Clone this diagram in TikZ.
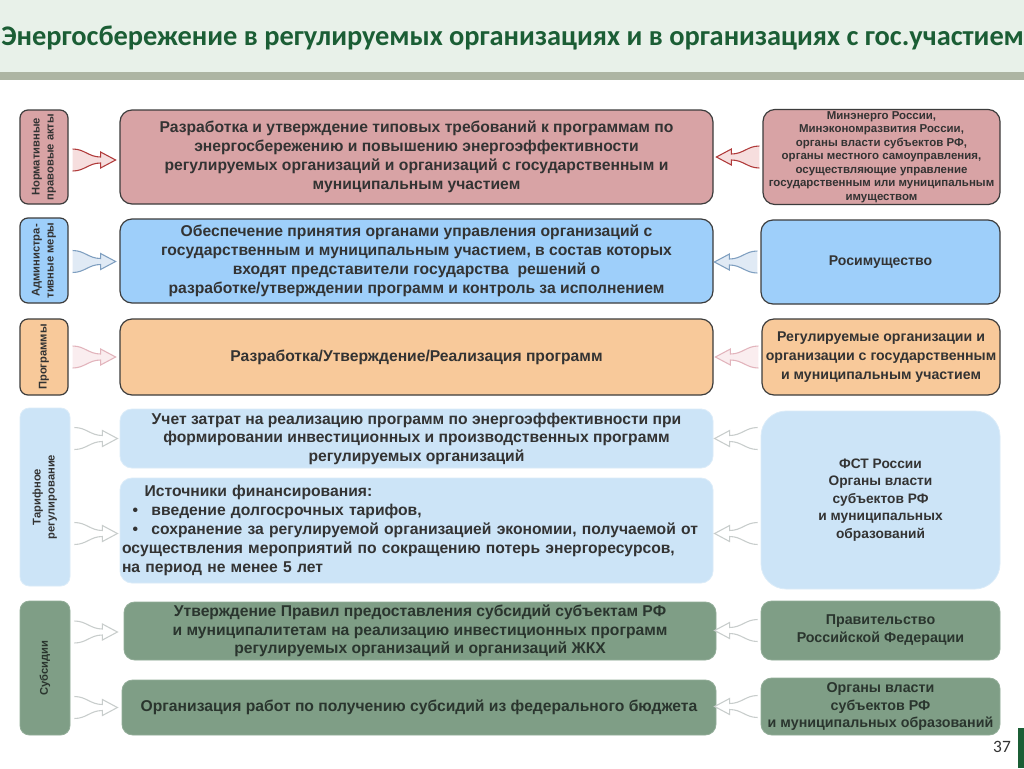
\documentclass[tikz,border=0pt]{standalone}
\usepackage{fontspec}
\setmainfont{Liberation Sans}
\newfontfamily\titlefont{Carlito}
\usetikzlibrary{calc}
\definecolor{hdrbg}{HTML}{E8F1E9}
\definecolor{hdrbar}{HTML}{ADB5A3}
\definecolor{titlecol}{HTML}{1B5E35}
\definecolor{txt}{HTML}{333333}
\definecolor{bord}{HTML}{3C3C3C}
\definecolor{red1}{HTML}{D8A3A5}
\definecolor{blue1}{HTML}{9ECFFA}
\definecolor{org1}{HTML}{F8C99A}
\definecolor{lblue}{HTML}{CCE4F7}
\definecolor{grn}{HTML}{7F9E86}
\definecolor{grntxt}{HTML}{2A352E}
\definecolor{arrred}{HTML}{B03A3A}
\definecolor{arrredf}{HTML}{F6DEDE}
\definecolor{arrblue}{HTML}{7F9FC0}
\definecolor{arrbluef}{HTML}{E0EAF5}
\definecolor{arrpink}{HTML}{E2B4BC}
\definecolor{arrpinkf}{HTML}{FAEDEF}
\definecolor{arrgray}{HTML}{C8CDCC}
\newcommand\vlabel[2]{\rotatebox{90}{\begin{tabular}{@{}c@{}}#1\\[0.5pt]#2\end{tabular}}}
\newcommand\vlabelone[1]{\rotatebox{90}{#1}}
\tikzset{
  sz/.style 2 args={minimum width=#1*0.75pt, minimum height=#2*0.75pt},
  box/.style={draw=bord, line width=0.9pt, rounded corners=9pt, align=center, inner sep=1.5pt,
     text=txt, font=\bfseries\fontsize{11.75}{14.25}\selectfont},
  lab/.style={draw=bord, line width=0.9pt, rounded corners=6pt, inner sep=0pt,
     text=txt, font=\bfseries\fontsize{8.4}{10}\selectfont},
  softbox/.style={fill=lblue, draw=lblue!70!white, line width=0.6pt, rounded corners=9pt, align=center,
     inner sep=1.5pt, text=txt, font=\bfseries\fontsize{11.75}{13.9}\selectfont},
  grnbox/.style={fill=grn, draw=grn!85!white, line width=0.6pt, rounded corners=8pt, align=center,
     inner sep=1.5pt, text=grntxt, font=\bfseries\fontsize{11.75}{13.9}\selectfont},
  rfat/.pic={\path[pic actions] (4,-11) .. controls (16,-11) and (20,-3) .. (32,-3) -- (32,-8) -- (47,0) -- (32,8) -- (32,3) .. controls (20,3) and (16,11) .. (4,11);},
  lfat/.pic={\path[pic actions] (-3,-11) .. controls (-15,-11) and (-19,-3) .. (-31,-3) -- (-31,-8) -- (-46,0) -- (-31,8) -- (-31,3) .. controls (-19,3) and (-15,11) .. (-3,11);},
  redarr/.style={draw=arrred, fill=arrredf, line width=0.8pt},
  bluearr/.style={draw=arrblue, fill=arrbluef, line width=0.8pt},
  pinkarr/.style={draw=arrpink, fill=arrpinkf, line width=0.8pt},
  grayarr/.style={draw=arrgray, fill=white, line width=0.8pt},
}
\begin{document}
\begin{tikzpicture}[x=0.75pt, y=-0.75pt]
\useasboundingbox (0,0) rectangle (1024,768);
\fill[white] (0,0) rectangle (1024,768);
% header
\fill[hdrbg] (0,0) rectangle (1024,72);
\fill[hdrbar] (0,72) rectangle (1024,80);
\node[anchor=west, inner sep=0pt, text=titlecol, font=\titlefont\bfseries\fontsize{21.3}{24}\selectfont] (title) at (1,38) {Энергосбережение в регулируемых организациях и в организациях с гос.участием};

% row 1
\node[lab, fill=red1, sz={48}{94}] (l1) at (44,157) {\vlabel{Нормативные}{правовые акты}};
\node[box, fill=red1, sz={593}{94}] (m1) at (416.5,157) {Разработка и утверждение типовых требований к программам по\\энергосбережению и повышению энергоэффективности\\регулируемых организаций и организаций с государственным и\\муниципальным участием};
\node[box, fill=red1, sz={237}{94}, font=\bfseries\fontsize{8.6}{10.1}\selectfont] (r1) at (881.5,157) {Минэнерго России,\\Минэкономразвития России,\\органы власти субъектов РФ,\\органы местного самоуправления,\\осуществляющие управление\\государственным или муниципальным\\имуществом};
% row 2
\node[lab, fill=blue1, sz={48}{85}] (l2) at (44,260.5) {\vlabel{Администра-}{тивные меры}};
\node[box, fill=blue1, sz={593}{84}] (m2) at (416.5,261) {Обеспечение принятия органами управления организаций с\\государственным и муниципальным участием, в состав которых\\входят представители государства\ \ решений о\\разработке/утверждении программ и контроль за исполнением};
\node[box, fill=blue1, sz={239}{84}, font=\bfseries\fontsize{10.55}{13}\selectfont] (r2) at (880.5,262) {Росимущество};
% row 3
\node[lab, fill=org1, sz={48}{76}] (l3) at (44,357) {\vlabelone{Программы}};
\node[box, fill=org1, sz={593}{76}] (m3) at (416.5,357) {Разработка/Утверждение/Реализация программ};
\node[box, fill=org1, sz={238}{76}, font=\bfseries\fontsize{10.6}{14}\selectfont] (r3) at (881,357) {Регулируемые организации и\\организации с государственным\\и муниципальным участием};
% row 4
\node[softbox, rounded corners=7pt, sz={50}{178}, font=\bfseries\fontsize{8.4}{10}\selectfont] (l4) at (45,497) {\vlabel{Тарифное}{регулирование}};
\node[softbox, sz={593}{59}] (m4a) at (416.5,438.5) {Учет затрат на реализацию программ по энергоэффективности при\\формировании инвестиционных и производственных программ\\регулируемых организаций};
\node[softbox, sz={593}{105}, align=left, text width=589*0.75pt, inner xsep=1.5pt, font=\bfseries\fontsize{11.75}{14.25}\selectfont] (m4b) at (416.5,530.5) {\hspace*{17pt}Источники финансирования:\\
\hspace*{8pt}•\hspace{10pt}введение долгосрочных тарифов,\\
\hspace*{8pt}•\hspace{10pt}сохранение за регулируемой организацией экономии, получаемой от\\
осуществления мероприятий по сокращению потерь энергоресурсов,\\
на период не менее 5 лет};
\node[softbox, rounded corners=19pt, sz={239}{178}, font=\bfseries\fontsize{10.3}{13.2}\selectfont] (r4) at (880.5,500) {ФСТ России\\Органы власти\\субъектов РФ\\и муниципальных\\образований};
% row 5
\node[grnbox, rounded corners=7pt, sz={50}{134}, font=\bfseries\fontsize{8.4}{10}\selectfont] (l5) at (45,668) {\vlabelone{Субсидии}};
\node[grnbox, sz={592}{58}] (m5a) at (420,631) {Утверждение Правил предоставления субсидий субъектам РФ\\и муниципалитетам на реализацию инвестиционных программ\\регулируемых организаций и организаций ЖКХ};
\node[grnbox, sz={594}{55}] (m5b) at (419,707.5) {Организация работ по получению субсидий из федерального бюджета};
\node[grnbox, sz={239}{59}, font=\bfseries\fontsize{10.7}{13.5}\selectfont] (r5a) at (880.5,630.5) {Правительство\\Российской Федерации};
\node[grnbox, sz={239}{57}, font=\bfseries\fontsize{10.7}{13.2}\selectfont] (r5b) at (880.5,706.5) {Органы власти\\субъектов РФ\\и муниципальных образований};

% arrows left -> middle
\pic[redarr] at ($(l1.east)+(0,3)$) {rfat};
\pic[bluearr] at ($(l2.east)+(0,1)$) {rfat};
\pic[pinkarr] at (l3.east) {rfat};
\pic[grayarr] at (l4.east |- m4a.west) {rfat};
\pic[grayarr] at ($(l4.east |- m4b.west)+(0,3)$) {rfat};
\pic[grayarr] at ($(l5.east |- m5a.west)+(0,1)$) {rfat};
\pic[grayarr] at (l5.east |- m5b.west) {rfat};
% arrows right -> middle
\pic[redarr] at (r1.west) {lfat};
\pic[bluearr] at (r2.west) {lfat};
\pic[pinkarr] at (r3.west) {lfat};
\pic[grayarr] at (r4.west |- m4a.east) {lfat};
\pic[grayarr] at ($(r4.west |- m4b.east)+(0,3)$) {lfat};
\pic[grayarr] at (r5a.west) {lfat};
\pic[grayarr] at (r5b.west) {lfat};

% page number
\node[text=txt, font=\titlefont\fontsize{13}{14}\selectfont, inner sep=0pt] (pg) at (1002,747) {37};
\fill[titlecol] (1018,728) rectangle (1024,768);
\end{tikzpicture}
\end{document}
